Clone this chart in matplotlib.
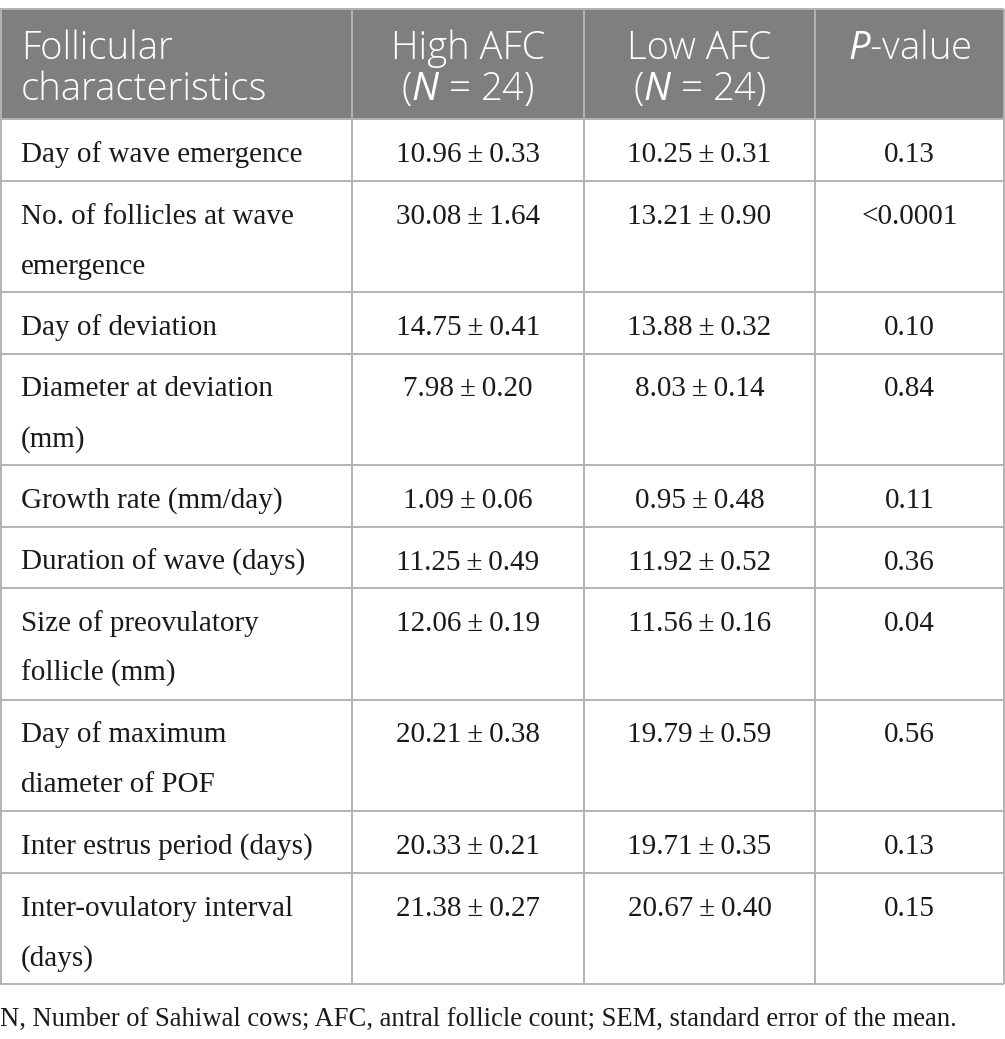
import matplotlib
matplotlib.use("Agg")
import matplotlib.pyplot as plt
from matplotlib.patches import Rectangle

# table content
header = ["Follicular\ncharacteristics", "High AFC\n($N$ = 24)",
          "Low AFC\n($N$ = 24)", "$P$-value"]
characteristics = [
    "Day of wave emergence",
    "No. of follicles at wave\nemergence",
    "Day of deviation",
    "Diameter at deviation\n(mm)",
    "Growth rate (mm/day)",
    "Duration of wave (days)",
    "Size of preovulatory\nfollicle (mm)",
    "Day of maximum\ndiameter of POF",
    "Inter estrus period (days)",
    "Inter-ovulatory interval\n(days)",
]
high_mean = [10.96, 30.08, 14.75, 7.98, 1.09, 11.25, 12.06, 20.21, 20.33, 21.38]
high_sem = [0.33, 1.64, 0.41, 0.20, 0.06, 0.49, 0.19, 0.38, 0.21, 0.27]
low_mean = [10.25, 13.21, 13.88, 8.03, 0.95, 11.92, 11.56, 19.79, 19.71, 20.67]
low_sem = [0.31, 0.90, 0.32, 0.14, 0.48, 0.52, 0.16, 0.59, 0.35, 0.40]
p_values = ["0.13", "<0.0001", "0.10", "0.84", "0.11", "0.36", "0.04",
            "0.56", "0.13", "0.15"]
footnote = ("N, Number of Sahiwal cows; AFC, antral follicle count; "
            "SEM, standard error of the mean.")

# layout (pixels)
W, H = 1005, 1039
col_edges = [0, 352, 584, 815, 1004]
top, head_h = 9, 110
line1, line_gap, pad = 43, 50, 61.5
grid_c = "#b3b3b3"
head_c = "#7f7f7f"
serif = "Liberation Serif"
sans = "Open Sans"

plt.rcParams["mathtext.fontset"] = "custom"
plt.rcParams["mathtext.rm"] = sans
plt.rcParams["mathtext.it"] = sans + ":italic"

fig = plt.figure(figsize=(W / 100, H / 100), dpi=100)
ax = fig.add_axes([0, 0, 1, 1])
ax.set_xlim(0, W)
ax.set_ylim(H, 0)
ax.axis("off")

# header band
ax.add_patch(Rectangle((col_edges[0], top), col_edges[-1] - col_edges[0],
                       head_h, facecolor=head_c, edgecolor="none"))
head_kw = dict(va="baseline", color="white", family=sans, fontsize=27.5,
               fontweight="light")
for i, lab in enumerate(header):
    for j, s in enumerate(lab.split("\n")):
        y = top + 50 + j * 41
        if i == 0:
            ax.text(col_edges[0] + 21, y, s, ha="left", **head_kw)
        else:
            ax.text((col_edges[i] + col_edges[i + 1]) / 2, y, s,
                    ha="center", **head_kw)

# body rows
row_tops = [top + head_h]
for lab in characteristics:
    n = lab.count("\n") + 1
    row_tops.append(row_tops[-1] + pad + line_gap * (n - 1))

txt_kw = dict(va="baseline", color="#1a1a1a", family=serif, fontsize=21)
for r, lab in enumerate(characteristics):
    y0 = row_tops[r] + line1
    for j, s in enumerate(lab.split("\n")):
        ax.text(col_edges[0] + 21, y0 + j * line_gap, s, ha="left", **txt_kw)
    cells = [f"{high_mean[r]:.2f}\u2009\u00b1\u2009{high_sem[r]:.2f}",
             f"{low_mean[r]:.2f}\u2009\u00b1\u2009{low_sem[r]:.2f}",
             p_values[r]]
    for c, s in enumerate(cells):
        ax.text((col_edges[c + 1] + col_edges[c + 2]) / 2, y0, s,
                ha="center", **txt_kw)

# grid lines
bottom = row_tops[-1]
ax.plot([col_edges[0], col_edges[-1]], [top - 0.5, top - 0.5],
        color=grid_c, lw=1.4, solid_capstyle="butt")
for y in row_tops:
    ax.plot([col_edges[0], col_edges[-1]], [y, y], color=grid_c, lw=1.4,
            solid_capstyle="butt")
for x in col_edges:
    ax.plot([x + 0.7, x + 0.7] if x == 0 else [x, x], [top, bottom],
            color=grid_c, lw=1.4, solid_capstyle="butt")

ax.text(0, bottom + 42, footnote, ha="left",
        **{**txt_kw, "fontsize": 19.2})

fig.savefig("out.png", dpi=100)
